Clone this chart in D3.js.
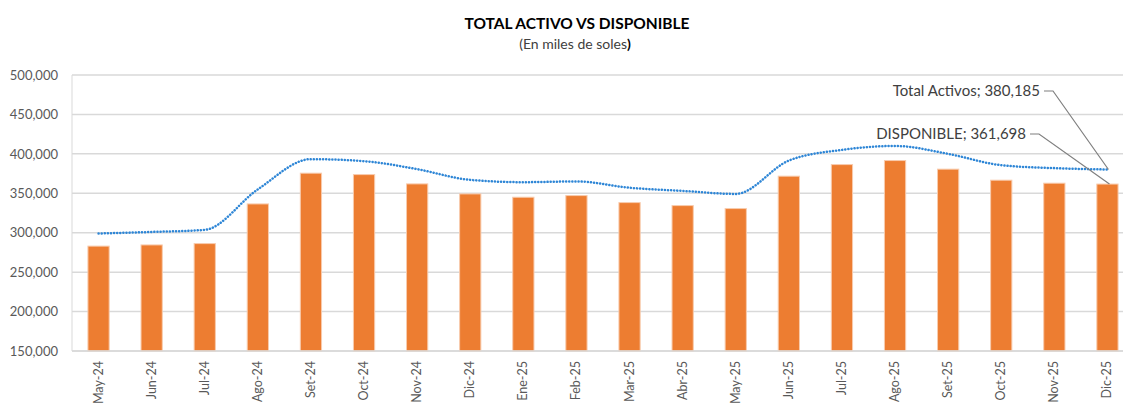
<!DOCTYPE html>
<html>
<head>
<meta charset="utf-8">
<script src="https://cdn.jsdelivr.net/npm/d3@7"></script>
<style>
  body { margin: 0; background: #fff; }
  text { font-family: Lato, "Open Sans", sans-serif; }
</style>
</head>
<body>
<div id="chart"></div>
<script>
var months = ["May-24", "Jun-24", "Jul-24", "Ago-24", "Set-24", "Oct-24", "Nov-24", "Dic-24", "Ene-25", "Feb-25",
  "Mar-25", "Abr-25", "May-25", "Jun-25", "Jul-25", "Ago-25", "Set-25", "Oct-25", "Nov-25", "Dic-25"]
var disponible = [283000, 284500, 286200, 336500, 375500, 373700, 361900, 349200, 345000, 347100,
  338200, 334400, 330600, 371700, 386400, 391500, 380600, 366600, 362800, 361698]
var totalActivos = [299000, 301000, 303600, 355000, 393300, 390700, 380600, 367000, 364100, 365000,
  357000, 353000, 349200, 391500, 405000, 410000, 400000, 385600, 381900, 380185]
var yTicks = [150000, 200000, 250000, 300000, 350000, 400000, 450000, 500000]

var width = 1123,
  height = 403
var svg = d3
  .select("#chart")
  .append("svg")
  .attr("width", width)
  .attr("height", height)

var x = d3.scaleBand()
  .domain(months)
  .range([72, 1134])
  .paddingInner(0.6)
  .paddingOuter(0.3)
var y = d3.scaleLinear().domain([150000, 500000]).range([351, 75])
var fmt = d3.format(",")

// title
svg.append("text")
  .attr("x", 577).attr("y", 29)
  .attr("text-anchor", "middle")
  .attr("font-size", 15.5).attr("font-weight", "bold")
  .attr("fill", "#000")
  .text("TOTAL ACTIVO VS DISPONIBLE")
var sub = svg.append("text")
  .attr("x", 575).attr("y", 49)
  .attr("text-anchor", "middle")
  .attr("font-size", 14)
  .attr("fill", "#404040")
sub.append("tspan").text("(En miles de soles")
sub.append("tspan").attr("font-weight", "bold").attr("fill", "#000").text(")")

// grid
svg.append("g")
  .selectAll("line")
  .data(yTicks)
  .enter()
  .append("line")
  .attr("x1", 72).attr("x2", width)
  .attr("y1", d => y(d)).attr("y2", d => y(d))
  .attr("stroke", "#d9d9d9")
  .attr("stroke-width", 1.5)

svg.append("line")
  .attr("x1", 72).attr("x2", 72)
  .attr("y1", y(500000)).attr("y2", y(150000))
  .attr("stroke", "#d9d9d9")
  .attr("stroke-width", 1)

// y axis labels
var yAxis = svg.append("g")
  .attr("transform", "translate(58,0)")
  .call(d3.axisLeft(y).tickValues(yTicks).tickFormat(fmt).tickSize(0).tickPadding(0))
yAxis.select(".domain").remove()
yAxis.selectAll("text")
  .attr("font-size", 13)
  .attr("font-family", "Lato, sans-serif")
  .attr("fill", "#595959")

// bars
svg.append("g")
  .selectAll("rect")
  .data(disponible)
  .enter()
  .append("rect")
  .attr("x", (d, i) => x(months[i]))
  .attr("width", x.bandwidth())
  .attr("y", d => y(d))
  .attr("height", d => y(150000) - y(d))
  .attr("fill", "#ed7d31")
  .attr("stroke", "#f8cbad")
  .attr("stroke-width", 1)

// x axis
var xAxis = svg.append("g")
  .attr("transform", "translate(0,351)")
  .call(d3.axisBottom(x).tickSize(0).tickPadding(0))
xAxis.select(".domain").attr("stroke", "#d9d9d9").attr("stroke-width", 1.5)
  .attr("d", "M72,0H" + width)
xAxis.selectAll("text")
  .attr("font-size", 12.5)
  .attr("font-family", "Lato, sans-serif")
  .attr("fill", "#595959")
  .attr("text-anchor", "end")
  .attr("transform", "translate(4,10) rotate(-90)")
  .attr("dy", "0")
  .attr("x", 0).attr("y", 0)

// total activos line
var line = d3.line()
  .x((d, i) => x(months[i]) + x.bandwidth() / 2)
  .y(d => y(d))
  .curve(d3.curveMonotoneX)
svg.append("path")
  .datum(totalActivos)
  .attr("d", line)
  .attr("fill", "none")
  .attr("stroke", "#2e86d6")
  .attr("stroke-width", 2.5)
  .attr("stroke-dasharray", "0.1 3")
  .attr("stroke-linecap", "round")

// annotations
var last = months.length - 1
var cx = x(months[last]) + x.bandwidth() / 2
var notes = [
  { label: "Total Activos; " + fmt(totalActivos[last]), tx: 1040, ty: 91, px: cx + 1, py: y(totalActivos[last]) },
  { label: "DISPONIBLE; " + fmt(disponible[last]), tx: 1026, ty: 134, px: cx + 2, py: y(disponible[last]) }
]
notes.forEach(function (n) {
  svg.append("polyline")
    .attr("points", [[n.tx + 4, n.ty], [n.tx + 13, n.ty], [n.px, n.py]].join(" "))
    .attr("fill", "none")
    .attr("stroke", "#7f7f7f")
    .attr("stroke-width", 1.2)
  svg.append("text")
    .attr("x", n.tx).attr("y", n.ty + 5)
    .attr("text-anchor", "end")
    .attr("font-size", 15)
    .attr("fill", "#404040")
    .text(n.label)
})
</script>
</body>
</html>
